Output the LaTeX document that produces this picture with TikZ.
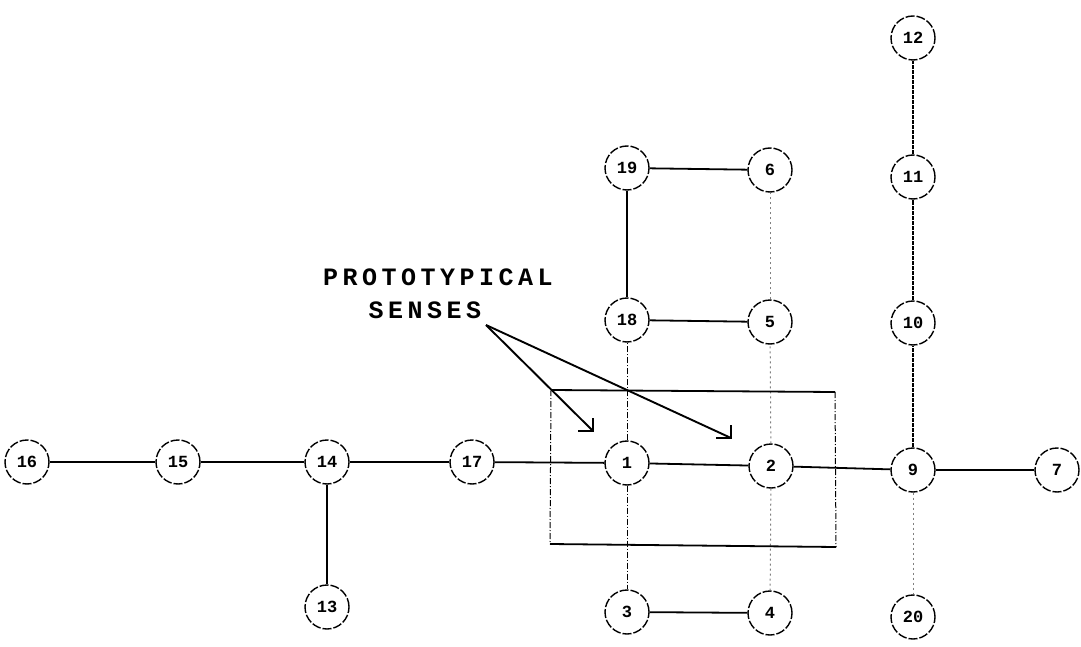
\documentclass[tikz,border=0pt]{standalone}
\usepackage{fontspec}
\usetikzlibrary{calc}
\newfontfamily\typew{Liberation Mono}
\newfontfamily\typewsp[LetterSpace=18]{Liberation Mono}
\begin{document}
\begin{tikzpicture}[x=1pt,y=-1pt,
  sense/.style={circle,draw,line width=1.4pt,dash pattern=on 9pt off 2pt,minimum size=44pt,inner sep=0pt,font=\typew\bfseries\fontsize{17}{17}\selectfont},
  solidedge/.style={line width=1.8pt},
  dashdotedge/.style={line width=1pt,dash pattern=on 6pt off 2pt on 1pt off 2pt},
  dottededge/.style={line width=1pt,gray,dash pattern=on 2pt off 3pt},
  denseedge/.style={line width=1.1pt,dash pattern=on 4pt off 1pt},
  pointer/.style={line width=1.9pt},
  caption/.style={font=\typewsp\bfseries\fontsize{25}{25}\selectfont,inner sep=0pt}]
\useasboundingbox (0,0) rectangle (1081,647);
% nodes
\node[sense] (n16) at (27,462) {16};
\node[sense] (n15) at (178,462) {15};
\node[sense] (n14) at (327,462) {14};
\node[sense] (n17) at (472,462) {17};
\node[sense] (n1) at (627,463) {1};
\node[sense] (n2) at (771,466) {2};
\node[sense] (n9) at (913,470) {9};
\node[sense] (n7) at (1057,470) {7};
\node[sense] (n13) at (327,607) {13};
\node[sense] (n3) at (627,612) {3};
\node[sense] (n4) at (770,613) {4};
\node[sense] (n20) at (913,617) {20};
\node[sense] (n18) at (627,320) {18};
\node[sense] (n5) at (770,322) {5};
\node[sense] (n19) at (627,168) {19};
\node[sense] (n6) at (770,170) {6};
\node[sense] (n10) at (913,323) {10};
\node[sense] (n11) at (913,177) {11};
\node[sense] (n12) at (913,38) {12};
% edges
\draw[solidedge] (n16) -- (n15);
\draw[solidedge] (n15) -- (n14);
\draw[solidedge] (n14) -- (n17);
\draw[solidedge] (n17) -- (n1);
\draw[solidedge] (n1) -- (n2);
\draw[solidedge] (n2) -- (n9);
\draw[solidedge] (n9) -- (n7);
\draw[solidedge] (n14) -- (n13);
\draw[solidedge] (n3) -- (n4);
\draw[solidedge] (n18) -- (n5);
\draw[solidedge] (n19) -- (n6);
\draw[line width=1.2pt] (n18) -- (n19);
\draw[dashdotedge] (n1) -- (n3);
\draw[dashdotedge] (n1) -- (n18);
\draw[dottededge] (n2) -- (n4);
\draw[dottededge] (n2) -- (n5);
\draw[dottededge] (n5) -- (n6);
\draw[dottededge] (n9) -- (n20);
\draw[denseedge] (n9) -- (n10);
\draw[denseedge] (n10) -- (n11);
\draw[denseedge] (n11) -- (n12);
% box
\coordinate (bTL) at (551,390);
\coordinate (bTR) at (835,392);
\coordinate (bBL) at (550,544);
\coordinate (bBR) at (836,547);
\draw[solidedge] (bTL) -- (bTR);
\draw[solidedge] (bBL) -- (bBR);
\draw[dashdotedge] (bTL) -- (bBL);
\draw[dashdotedge] (bTR) -- (bBR);
% caption
\node[caption] (cap1) at (438,277) {PROTOTYPICAL};
\node[caption] (cap2) at (425,310) {SENSES};
\coordinate (aS) at (486,325);
\coordinate (t1) at (593,431);
\coordinate (t2) at (731,438);
\draw[pointer] (aS) -- (t1);
\draw[pointer] (aS) -- (t2);
\draw[pointer] ($(t1)+(0,-13)$) -- (t1) -- ++(-15,0);
\draw[pointer] ($(t2)+(0,-13)$) -- (t2) -- ++(-15,0);
\end{tikzpicture}
\end{document}
